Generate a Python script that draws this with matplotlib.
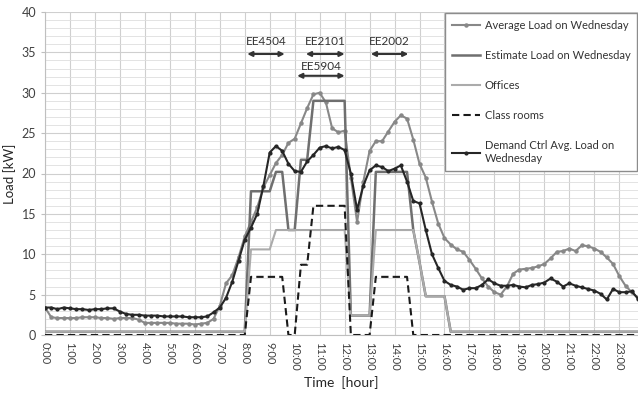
import numpy as np
import matplotlib
matplotlib.use("Agg")
import matplotlib.pyplot as plt
from matplotlib.ticker import MultipleLocator

plt.rcParams['font.family'] = ['Lato', 'DejaVu Sans']

# 15-minute time steps over one day
time_labels = [f"{h}:00" for h in range(24)]

avg_load = [
    3.4, 2.2, 2.1, 2.1, 2.1, 2.1, 2.2, 2.2, 2.2, 2.1, 2.1, 2.0,
    2.1, 2.1, 2.1, 1.9, 1.5, 1.5, 1.5, 1.5, 1.5, 1.4, 1.4, 1.4,
    1.3, 1.4, 1.5, 2.0, 3.6, 6.4, 7.4, 9.6, 12.2, 14.0, 15.8, 18.3,
    19.8, 21.3, 22.3, 23.8, 24.3, 26.2, 28.1, 29.8, 30.0, 28.8, 25.6, 25.1,
    25.3, 19.5, 14.0, 19.0, 22.8, 24.0, 24.0, 25.2, 26.4, 27.2, 26.8, 24.2,
    21.2, 19.5, 16.5, 13.8, 12.0, 11.2, 10.6, 10.3, 9.3, 8.2, 7.0, 6.0,
    5.3, 5.0, 6.0, 7.6, 8.1, 8.2, 8.3, 8.5, 8.8, 9.5, 10.3, 10.4,
    10.7, 10.4, 11.1, 11.0, 10.7, 10.3, 9.6, 8.8, 7.3, 6.1, 5.3, 4.6,
]

estimate_load = (
    [0.4] * 33 + [17.8] * 4 + [20.2] * 2 + [13.0] * 2 + [21.7] * 2
    + [29.0] * 6 + [2.4] * 4 + [20.2] * 6 + [13.0] + [9.0] + [4.8] * 4
    + [0.4] * 31
)

offices = (
    [0.4] * 33 + [10.6] * 4 + [13.0] * 12 + [2.4] * 4 + [13.0] * 7
    + [9.0] + [4.8] * 4 + [0.4] * 31
)

class_rooms = (
    [0.0] * 33 + [7.2] * 6 + [0.0] * 2 + [8.7] * 2 + [16.0] * 6
    + [0.0] * 4 + [7.2] * 6 + [0.0] * 37
)

demand_ctrl = [
    3.4, 3.4, 3.2, 3.4, 3.3, 3.2, 3.2, 3.1, 3.2, 3.2, 3.3, 3.3,
    2.9, 2.6, 2.5, 2.5, 2.4, 2.4, 2.4, 2.3, 2.3, 2.3, 2.3, 2.2,
    2.2, 2.2, 2.3, 2.8, 3.4, 4.6, 6.6, 9.2, 11.8, 13.3, 15.0, 18.5,
    22.6, 23.4, 22.8, 21.2, 20.3, 20.2, 21.5, 22.3, 23.2, 23.4, 23.1, 23.3,
    22.9, 20.0, 15.5, 18.5, 20.4, 21.0, 20.8, 20.3, 20.6, 21.0, 19.0, 16.6,
    16.3, 13.0, 10.0, 8.3, 6.7, 6.2, 6.0, 5.6, 5.8, 5.8, 6.2, 6.9,
    6.4, 6.1, 6.1, 6.2, 6.0, 5.9, 6.2, 6.3, 6.5, 7.0, 6.6, 6.0,
    6.4, 6.1, 5.9, 5.7, 5.5, 5.1, 4.4, 5.7, 5.3, 5.3, 5.4, 4.5,
]

# Lecture slots (hours)
courses = ["EE4504", "EE2101", "EE5904", "EE2002"]
course_start = [8.1, 10.45, 10.1, 13.05]
course_end = [9.6, 12.0, 12.0, 14.55]
course_row = [0, 0, 1, 0]

x = np.arange(len(avg_load))

fig = plt.figure(figsize=(6.38, 3.94), dpi=100)
ax = fig.add_axes([45 / 638, 59 / 394, 593 / 638, 323 / 394])

txt = '#404040'
ax.plot(x, avg_load, color='#888888', lw=1.5, marker='o', ms=2.2,
        label='Average Load on Wednesday', zorder=3)
ax.plot(x, estimate_load, color='#6f6f6f', lw=1.8,
        label='Estimate Load on Wednesday', zorder=3)
ax.plot(x, offices, color='#ababab', lw=1.5, label='Offices', zorder=3)
ax.plot(x, class_rooms, color='#1a1a1a', lw=1.5, ls=(0, (3.5, 2)),
        label='Class rooms', zorder=4)
ax.plot(x, demand_ctrl, color='#262626', lw=1.5, marker='o', ms=2.0,
        label='Demand Ctrl Avg. Load on\nWednesday', zorder=5)

ax.set_xlim(0, len(avg_load) - 1)
ax.set_ylim(0, 40)
ax.set_xticks(np.arange(0, 96, 4))
ax.set_xticklabels(time_labels, rotation=-90, fontsize=8, color=txt)
ax.yaxis.set_major_locator(MultipleLocator(5))
ax.yaxis.set_minor_locator(MultipleLocator(1))
ax.tick_params(axis='y', labelsize=9, colors=txt, length=3, color='#bfbfbf')
ax.tick_params(axis='y', which='minor', length=0)
ax.tick_params(axis='x', length=0, pad=5)

ax.grid(True, which='major', axis='both', color='#cfcfcf', lw=0.8)
ax.grid(True, which='minor', axis='y', color='#dedede', lw=0.6)
ax.set_axisbelow(True)
for s in ['top', 'right']:
    ax.spines[s].set_visible(False)
for s in ['left', 'bottom']:
    ax.spines[s].set_color('#bfbfbf')

ax.set_ylabel('Load [kW]', fontsize=9.5, color='#262626')
ax.set_xlabel('Time  [hour]', fontsize=10, color='#262626', labelpad=4)

# Course arrows
row_arrow_y = [34.8, 32.1]
row_text_y = [36.3, 33.2]
for name, s, e, r in zip(courses, course_start, course_end, course_row):
    ax.annotate('', xy=(e * 4, row_arrow_y[r]), xytext=(s * 4, row_arrow_y[r]),
                arrowprops=dict(arrowstyle='<|-|>', color='#333333', lw=1.5,
                                mutation_scale=7, shrinkA=0, shrinkB=0))
    ax.text((s + e) * 2, row_text_y[r], name, ha='center', va='center',
            fontsize=8.5, color='#333333')

leg = ax.legend(loc='upper right', bbox_to_anchor=(637 / 638, 1 - 13 / 394),
                bbox_transform=fig.transFigure, fontsize=8, frameon=True,
                fancybox=False, edgecolor='#8c8c8c', framealpha=1,
                labelspacing=1.72, handlelength=2.5, handletextpad=0.45,
                borderpad=0.6, borderaxespad=0)
leg.get_frame().set_linewidth(1.0)
for t in leg.get_texts():
    t.set_color('#333333')

fig.savefig('out.png', dpi=100)
